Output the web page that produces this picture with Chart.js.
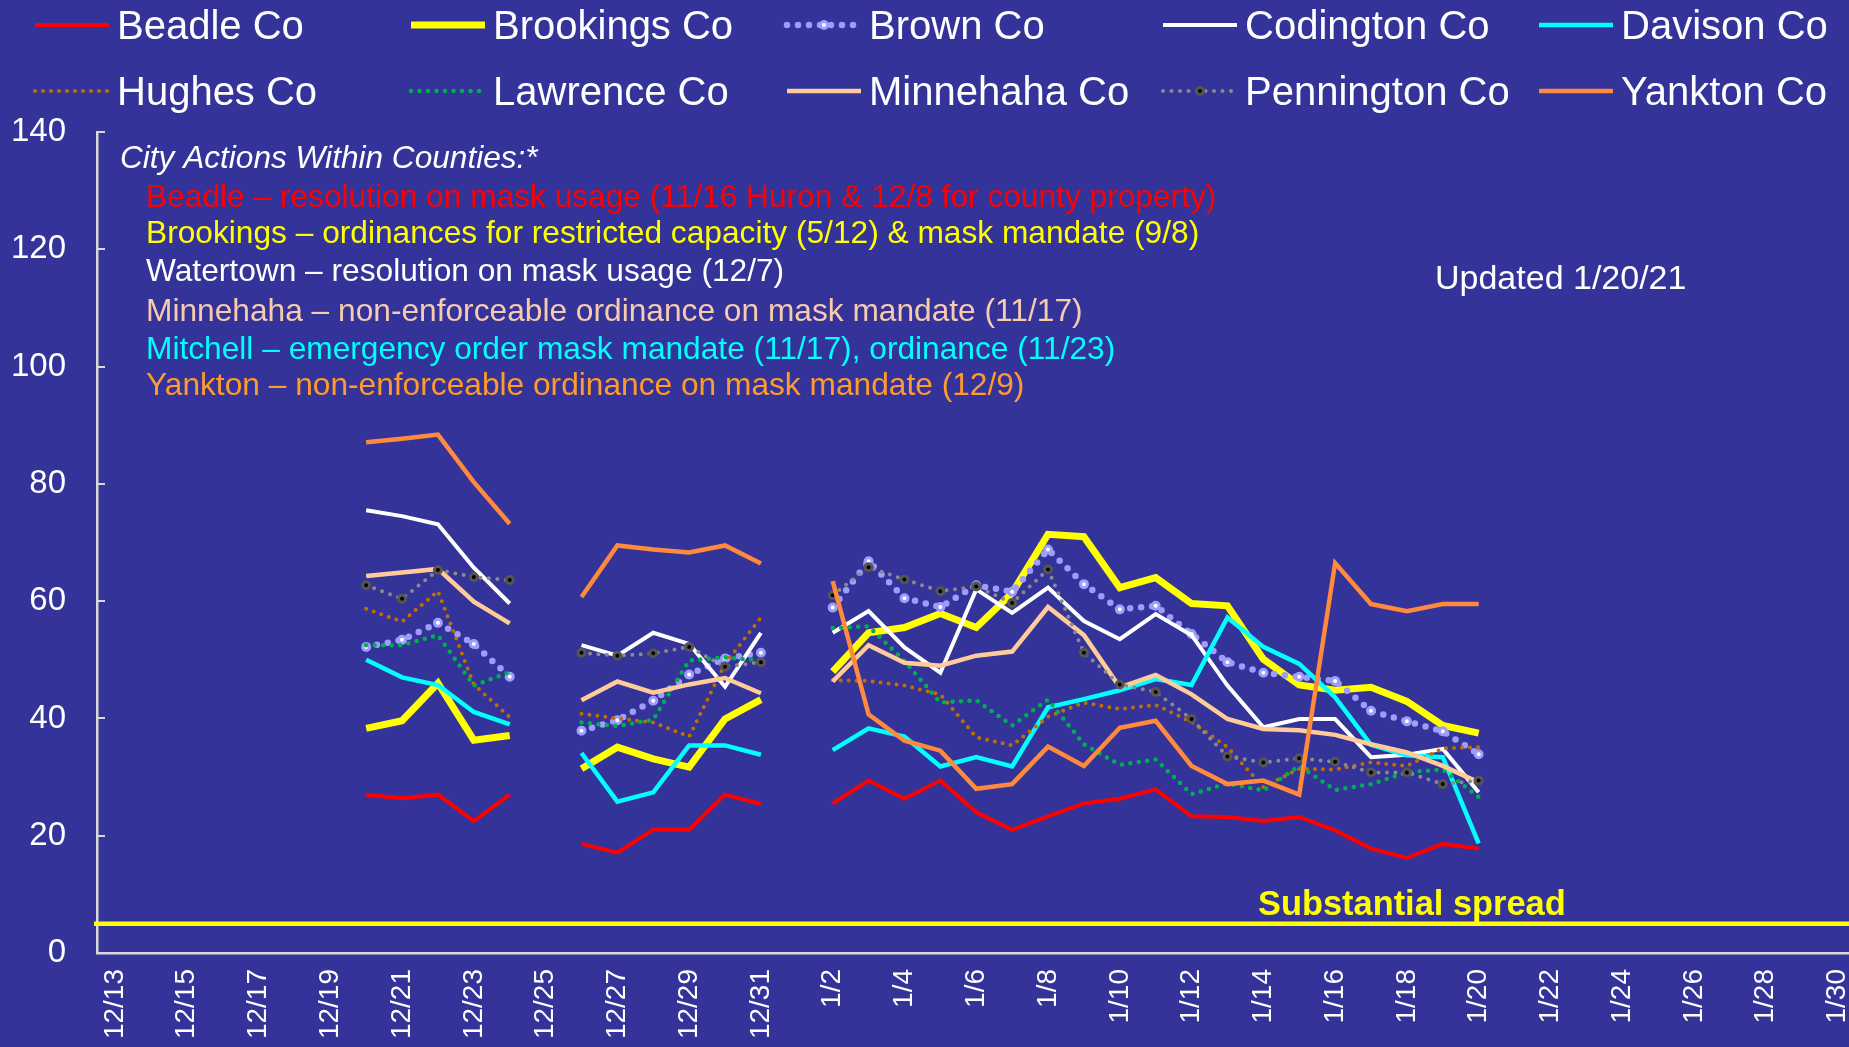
<!DOCTYPE html>
<html>
<head>
<meta charset="utf-8">
<script src="https://cdn.jsdelivr.net/npm/chart.js@4.4.1/dist/chart.umd.min.js"></script>
<style>
  html, body { margin: 0; padding: 0; overflow: hidden; background: #333399; }
  #wrap { width: 1862px; height: 1047px; position: relative; }
</style>
</head>
<body>
<div id="wrap"><canvas id="countyChart" width="1862" height="1047"></canvas></div>
<script>
const N = null;

const dateLabels = [
    '12/13', '12/14', '12/15', '12/16', '12/17', '12/18', '12/19', '12/20', '12/21', '12/22',
    '12/23', '12/24', '12/25', '12/26', '12/27', '12/28', '12/29', '12/30', '12/31',
    '1/1', '1/2', '1/3', '1/4', '1/5', '1/6', '1/7', '1/8', '1/9', '1/10', '1/11', '1/12',
    '1/13', '1/14', '1/15', '1/16', '1/17', '1/18', '1/19', '1/20', '1/21', '1/22', '1/23',
    '1/24', '1/25', '1/26', '1/27', '1/28', '1/29', '1/30'
];

// 12/13-12/19 empty, 12/20-12/24, gap, 12/26-12/31, gap, 1/2-1/20, then empty
const beadle = [N, N, N, N, N, N, N,
    27.0, 26.4, 27.0, 22.5, 27.0, N,
    18.6, 17.1, 21.0, 21.0, 27.0, 25.4, N,
    25.5, 29.4, 26.3, 29.4, 24.0, 21.0, 23.3, 25.5, 26.3, 27.9,
    23.3, 23.2, 22.5, 23.2, 20.9, 17.8, 16.2, 18.6, 17.8,
    N, N, N, N, N, N, N, N, N, N];
const brookings = [N, N, N, N, N, N, N,
    38.3, 39.6, 46.0, 36.3, 37.1, N,
    31.4, 35.1, 33.1, 31.7, 39.9, 43.2, N,
    48.0, 54.6, 55.5, 57.9, 55.5, 61.4, 71.4, 71.0, 62.3, 64.0,
    59.6, 59.2, 50.1, 45.7, 44.8, 45.3, 42.9, 38.8, 37.5,
    N, N, N, N, N, N, N, N, N, N];
const brown = [N, N, N, N, N, N, N,
    52.2, 53.4, 56.3, 52.7, 47.1, N,
    37.9, 39.7, 43.0, 47.5, 50.2, 51.2, N,
    58.9, 66.8, 60.5, 59.0, 62.7, 61.6, 68.8, 62.9, 58.6, 59.2,
    54.4, 49.6, 47.8, 47.1, 46.4, 41.3, 39.5, 37.8, 33.9,
    N, N, N, N, N, N, N, N, N, N];
const codington = [N, N, N, N, N, N, N,
    75.5, 74.5, 73.1, 65.7, 59.6, N,
    52.5, 50.7, 54.6, 52.7, 45.4, 54.6, N,
    54.6, 58.3, 52.1, 47.8, 62.0, 58.0, 62.3, 56.6, 53.5, 57.8,
    54.2, 45.6, 38.5, 39.9, 39.9, 33.4, 33.8, 34.8, 27.4,
    N, N, N, N, N, N, N, N, N, N];
const davison = [N, N, N, N, N, N, N,
    50.0, 47.0, 45.7, 41.1, 39.0, N,
    34.1, 25.8, 27.4, 35.4, 35.4, 33.8, N,
    34.6, 38.3, 36.9, 31.8, 33.4, 31.8, 41.9, 43.3, 44.8, 46.7,
    45.7, 57.2, 52.2, 49.3, 43.6, 35.5, 33.7, 33.4, 18.7,
    N, N, N, N, N, N, N, N, N, N];
const hughes = [N, N, N, N, N, N, N,
    58.7, 56.5, 61.7, 45.8, 40.2, N,
    40.8, 40.0, 39.3, 36.9, 49.3, 57.2, N,
    46.5, 46.4, 45.6, 44.1, 36.8, 35.4, 40.3, 42.7, 41.6, 42.3,
    39.4, 35.1, 28.3, 31.4, 31.3, 32.5, 31.9, 34.9, 35.1,
    N, N, N, N, N, N, N, N, N, N];
const lawrence = [N, N, N, N, N, N, N,
    52.5, 52.5, 54.2, 45.6, 47.9, N,
    39.3, 38.7, 39.8, 49.9, 50.4, 49.9, N,
    55.4, 55.7, 49.8, 42.7, 43.1, 38.8, 43.2, 35.6, 32.1, 33.0,
    27.1, 28.9, 27.7, 31.9, 27.8, 28.8, 30.8, 31.3, 26.6,
    N, N, N, N, N, N, N, N, N, N];
const minnehaha = [N, N, N, N, N, N, N,
    64.3, 64.9, 65.5, 59.9, 56.2, N,
    43.1, 46.3, 44.4, 45.8, 46.9, 44.3, N,
    46.3, 52.5, 49.5, 49.0, 50.7, 51.4, 59.0, 54.2, 45.3, 47.4,
    44.1, 39.9, 38.2, 38.0, 37.2, 35.6, 34.2, 31.9, 29.1,
    N, N, N, N, N, N, N, N, N, N];
const pennington = [N, N, N, N, N, N, N,
    62.7, 60.4, 65.3, 64.1, 63.6, N,
    51.2, 50.7, 51.1, 52.2, 48.8, 49.6, N,
    61.0, 65.8, 63.7, 61.7, 62.5, 59.7, 65.4, 51.2, 45.8, 44.5,
    39.9, 33.5, 32.5, 33.2, 32.6, 30.8, 30.8, 28.8, 29.4,
    N, N, N, N, N, N, N, N, N, N];
const yankton = [N, N, N, N, N, N, N,
    87.1, 87.7, 88.4, 80.3, 73.2, N,
    60.7, 69.5, 68.8, 68.3, 69.5, 66.4, N,
    63.4, 40.7, 36.2, 34.5, 28.0, 28.8, 35.2, 31.9, 38.4, 39.6,
    31.9, 28.8, 29.4, 27.0, 66.5, 59.5, 58.3, 59.5, 59.5,
    N, N, N, N, N, N, N, N, N, N];

const substantialSpread = 5;
const yTicks = { min: 0, max: 140, step: 20 };

const cityActionsTitle = 'City Actions Within Counties:*';
const cityActions = [
    ['Beadle \u2013 resolution on mask usage (11/16 Huron & 12/8 for county property)', '#FF0000'],
    ['Brookings \u2013 ordinances for restricted capacity (5/12) & mask mandate (9/8)', '#FFFF00'],
    ['Watertown \u2013 resolution on mask usage (12/7)', '#FFFFFF'],
    ['Minnehaha \u2013 non-enforceable ordinance on mask mandate (11/17)', '#F8CBAD'],
    ['Mitchell \u2013 emergency order mask mandate (11/17), ordinance (11/23)', '#00FFFF'],
    ['Yankton \u2013 non-enforceable ordinance on mask mandate (12/9)', '#FF9A2E']
];
const updatedText = 'Updated 1/20/21';
const spreadText = 'Substantial spread';

const FONT = '"Liberation Sans", Arial, sans-serif';

const solid = (label, data, color, width) => ({
    label: label, data: data, borderColor: color, backgroundColor: color,
    borderWidth: width, pointRadius: 0, pointHoverRadius: 0
});
const dotted = (label, data, color, width, gap) => ({
    label: label, data: data, borderColor: color, backgroundColor: color,
    borderWidth: width, borderDash: [0, gap], borderCapStyle: 'round',
    pointRadius: 0, pointHoverRadius: 0
});

const datasets = [
    solid('Beadle Co', beadle, '#FF0000', 4),
    solid('Brookings Co', brookings, '#FFFF00', 7),
    Object.assign(dotted('Brown Co', brown, '#9D9DFF', 6.5, 11), {
        pointRadius: 3.5, pointBorderWidth: 3, pointBackgroundColor: '#FFFFFF', pointBorderColor: '#9D9DFF'
    }),
    solid('Codington Co', codington, '#FFFFFF', 4),
    solid('Davison Co', davison, '#00FFFF', 4.5),
    dotted('Hughes Co', hughes, '#C07000', 4, 8),
    dotted('Lawrence Co', lawrence, '#00B050', 4.5, 8.5),
    solid('Minnehaha Co', minnehaha, '#FFCC99', 4.5),
    Object.assign(dotted('Pennington Co', pennington, '#8A8A8A', 4, 8.5), {
        pointRadius: 3.5, pointBorderWidth: 3, pointBackgroundColor: '#000000', pointBorderColor: '#555555'
    }),
    solid('Yankton Co', yankton, '#FF8A3D', 4.5)
];
// Excel draws the last series on top
datasets.forEach((ds, i) => { ds.order = datasets.length - i; });

const overlayPlugin = {
    id: 'overlay',
    beforeDatasetsDraw: (chart) => {
        const ctx = chart.ctx;
        const area = chart.chartArea;
        const y = chart.scales.y.getPixelForValue(substantialSpread);
        ctx.save();
        ctx.strokeStyle = '#FFFF00';
        ctx.lineWidth = 4.5;
        ctx.beginPath();
        ctx.moveTo(area.left - 3, y);
        ctx.lineTo(area.right, y);
        ctx.stroke();
        ctx.restore();
    },
    afterDraw: (chart) => {
        const ctx = chart.ctx;
        ctx.save();

        // city actions block
        ctx.textBaseline = 'alphabetic';
        ctx.textAlign = 'left';
        ctx.fillStyle = '#FFFFFF';
        ctx.font = 'italic 31.6px ' + FONT;
        ctx.fillText(cityActionsTitle, 120, 168);
        const rows = [207, 243, 281, 321, 359, 395];
        ctx.font = '31.7px ' + FONT;
        cityActions.forEach((a, i) => {
            ctx.fillStyle = a[1];
            ctx.fillText(a[0], 146, rows[i]);
        });

        ctx.fillStyle = '#FFFFFF';
        ctx.font = '34px ' + FONT;
        ctx.fillText(updatedText, 1435, 289);

        ctx.fillStyle = '#FFFF00';
        ctx.font = 'bold 34.4px ' + FONT;
        ctx.fillText(spreadText, 1258, 915);

        // legend grid, 5 columns x 2 rows
        chart.data.datasets.forEach((ds, i) => {
            const col = i % 5;
            const row = Math.floor(i / 5);
            const x0 = 35 + col * 376;
            const yc = row === 0 ? 25 : 91;
            ctx.strokeStyle = ds.borderColor;
            ctx.lineWidth = ds.borderWidth;
            ctx.setLineDash(ds.borderDash || []);
            ctx.lineCap = ds.borderDash ? 'round' : 'butt';
            ctx.beginPath();
            ctx.moveTo(x0, yc);
            ctx.lineTo(x0 + 74, yc);
            ctx.stroke();
            ctx.setLineDash([]);
            if (ds.pointRadius > 0) {
                ctx.beginPath();
                ctx.arc(x0 + 37, yc, ds.pointRadius, 0, Math.PI * 2);
                ctx.fillStyle = ds.pointBackgroundColor;
                ctx.fill();
                ctx.lineWidth = ds.pointBorderWidth;
                ctx.strokeStyle = ds.pointBorderColor;
                ctx.stroke();
            }
            ctx.fillStyle = '#FFFFFF';
            ctx.font = '40px ' + FONT;
            ctx.fillText(ds.label, x0 + 82, yc + 14);
        });
        ctx.restore();
    }
};

const renderChart = () => {
    const ctx = document.getElementById('countyChart').getContext('2d');
    new Chart(ctx, {
        type: 'line',
        data: {
            labels: dateLabels,
            datasets: datasets
        },
        options: {
            responsive: false,
            animation: false,
            events: [],
            layout: {
                padding: { top: 132, left: 11, right: 0, bottom: 10 }
            },
            plugins: {
                legend: { display: false },
                tooltip: { enabled: false }
            },
            scales: {
                x: {
                    offset: true,
                    grid: { display: false, drawTicks: false },
                    border: { display: true, color: '#D9D9D9', width: 2.5 },
                    ticks: {
                        color: '#FFFFFF',
                        font: { family: FONT, size: 28 },
                        autoSkip: false,
                        minRotation: 90,
                        maxRotation: 90,
                        padding: 16,
                        callback: (value, index) => index % 2 === 0 ? dateLabels[index] : ''
                    },
                    afterFit: (scale) => {
                        scale.height = 84;
                        scale.paddingLeft = 0;
                        scale.paddingRight = 0;
                    }
                },
                y: {
                    min: yTicks.min,
                    max: yTicks.max,
                    grid: {
                        display: true, drawOnChartArea: false, drawTicks: true,
                        tickLength: -8, color: '#D9D9D9', lineWidth: 2
                    },
                    border: { display: true, color: '#D9D9D9', width: 2.5 },
                    ticks: {
                        stepSize: yTicks.step,
                        color: '#FFFFFF',
                        font: { family: FONT, size: 33 },
                        padding: 39
                    },
                    afterFit: (scale) => {
                        scale.width = 86;
                    }
                }
            }
        },
        plugins: [overlayPlugin]
    });
};

window.addEventListener('load', () => renderChart());
</script>
</body>
</html>
